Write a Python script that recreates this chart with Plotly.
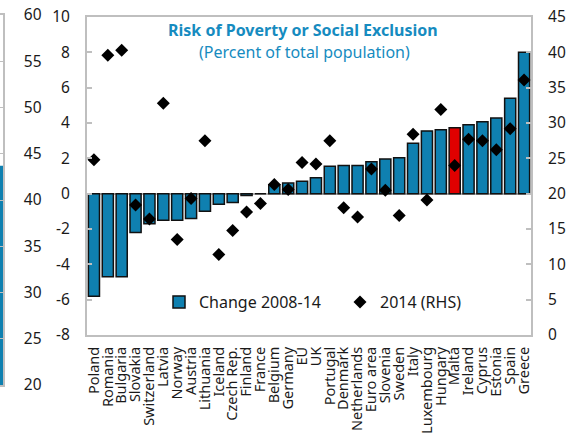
import plotly.graph_objects as go

countries = ["Poland", "Romania", "Bulgaria", "Slovakia", "Switzerland", "Latvia", "Norway",
             "Austria", "Lithuania", "Iceland", "Czech Rep.", "Finland", "France", "Belgium",
             "Germany", "EU", "UK", "Portugal", "Denmark", "Netherlands", "Euro area",
             "Slovenia", "Sweden", "Italy", "Luxembourg", "Hungary", "Malta", "Ireland",
             "Cyprus", "Estonia", "Spain", "Greece"]
change_2008_14 = [-5.8, -4.7, -4.7, -2.2, -1.7, -1.5, -1.5, -1.4, -1.0, -0.6, -0.5, -0.1, 0.0,
                  0.5, 0.6, 0.7, 0.9, 1.55, 1.6, 1.6, 1.8, 1.96, 2.04, 2.85, 3.55, 3.62, 3.73,
                  3.9, 4.07, 4.28, 5.4, 8.0]
level_2014 = [24.8, 39.6, 40.3, 18.4, 16.4, 32.8, 13.5, 19.3, 27.5, 11.4, 14.8, 17.4, 18.6,
              21.3, 20.6, 24.4, 24.2, 27.5, 18.0, 16.7, 23.5, 20.5, 16.9, 28.4, 19.1, 31.9,
              24.0, 27.7, 27.5, 26.2, 29.2, 36.1]
highlight = "Malta"
neighbour_value = [43.7]

left_ticks = [-8, -6, -4, -2, 0, 2, 4, 6, 8, 10]
right_ticks = [0, 5, 10, 15, 20, 25, 30, 35, 40, 45]
neighbour_ticks = [20, 25, 30, 35, 40, 45, 50, 55, 60]

BLUE = "#0f80b0"
RED = "#e00000"
GRAY = "#bfbfbf"
TXT = "#1a1a1a"
FONT = "Noto Sans"

W, H = 571, 440
def px_x(x):
    return x / W
def px_y(y):
    return 1 - y / H

bar_colors = [RED if c == highlight else BLUE for c in countries]

fig = go.Figure()
fig.add_trace(go.Bar(x=countries, y=change_2008_14, name="Change 2008-14",
                     marker=dict(color=bar_colors, line=dict(color="#111111", width=1.5)),
                     xaxis="x", yaxis="y", legend="legend"))
fig.add_trace(go.Scatter(x=countries, y=level_2014, name="2014 (RHS)", mode="markers",
                         marker=dict(symbol="diamond", size=10, color="black"),
                         xaxis="x", yaxis="y2", legend="legend2"))
# partial neighbouring chart at far left
fig.add_trace(go.Bar(x=[0], y=neighbour_value, marker=dict(color=BLUE, line=dict(width=0)),
                     width=1, xaxis="x3", yaxis="y3", showlegend=False))

fig.update_layout(
    template="none",
    width=W, height=H,
    margin=dict(l=0, r=0, t=0, b=0, pad=0),
    paper_bgcolor="white", plot_bgcolor="white",
    font=dict(family=FONT, size=15, color=TXT),
    bargap=0.2,
    xaxis=dict(domain=[px_x(87), px_x(531)], anchor="y", type="category",
               range=[-0.5, len(countries) - 0.5],
               tickmode="array", tickvals=countries, ticktext=countries, automargin=False,
               showline=True, mirror=True, linecolor=GRAY, linewidth=2,
               ticks="", tickangle=-90, tickfont=dict(size=14.5, color=TXT),
               ticklabelstandoff=4, showgrid=False),
    yaxis=dict(domain=[px_y(335), px_y(17)], anchor="x", range=[-8, 10],
               tickmode="array", tickvals=left_ticks, ticktext=[str(v) for v in left_ticks],
               automargin=False,
               showline=True, linecolor=GRAY, linewidth=2, ticks="inside", ticklen=5,
               tickcolor=GRAY, tickwidth=1.5, showgrid=False, zeroline=True,
               zerolinecolor="#b0b0b0", zerolinewidth=2, ticklabelstandoff=12,
               tickfont=dict(size=15.5, color=TXT)),
    yaxis2=dict(overlaying="y", side="right", anchor="x", range=[0, 45],
                tickmode="array", tickvals=right_ticks, ticktext=[str(v) for v in right_ticks],
                automargin=False,
                showline=True, linecolor=GRAY, linewidth=2, ticks="inside", ticklen=5,
                tickcolor=GRAY, tickwidth=1.5, showgrid=False, zeroline=False,
                ticklabelstandoff=12, tickfont=dict(size=15.5, color=TXT)),
    xaxis3=dict(domain=[0, px_x(3)], anchor="y3", range=[-0.5, 0.5], showticklabels=False,
                automargin=False,
                showline=True, mirror=True, linecolor=GRAY, linewidth=1.5, ticks="",
                showgrid=False, zeroline=False),
    yaxis3=dict(domain=[px_y(385), px_y(15)], anchor="x3", side="right", range=[20, 60],
                tickmode="array", tickvals=neighbour_ticks,
                ticktext=[str(v) for v in neighbour_ticks],
                automargin=False,
                showline=True, linecolor=GRAY, linewidth=1.5, ticks="inside",
                ticklen=3, tickcolor=GRAY, showgrid=False, zeroline=False,
                ticklabelstandoff=16, tickfont=dict(size=15.5, color=TXT)),
    showlegend=True,
    legend=dict(x=px_x(159), y=px_y(302), xanchor="left", yanchor="middle",
                bgcolor="rgba(0,0,0,0)", font=dict(size=16, color=TXT)),
    legend2=dict(x=px_x(340), y=px_y(302), xanchor="left", yanchor="middle",
                 bgcolor="rgba(0,0,0,0)", font=dict(size=16, color=TXT)),
    annotations=[
        dict(text="<b>Risk of Poverty or Social Exclusion</b>", xref="paper", yref="paper",
             x=px_x(303), y=px_y(30), xanchor="center", yanchor="middle", showarrow=False,
             font=dict(size=16, color="#168bc0", family=FONT)),
        dict(text="(Percent of total population)", xref="paper", yref="paper",
             x=px_x(304), y=px_y(52), xanchor="center", yanchor="middle", showarrow=False,
             font=dict(size=16, color="#168bc0", family=FONT)),
    ],
)

fig.write_html("out.html", config={"displayModeBar": False},
               post_script="document.body.style.margin='0';")
